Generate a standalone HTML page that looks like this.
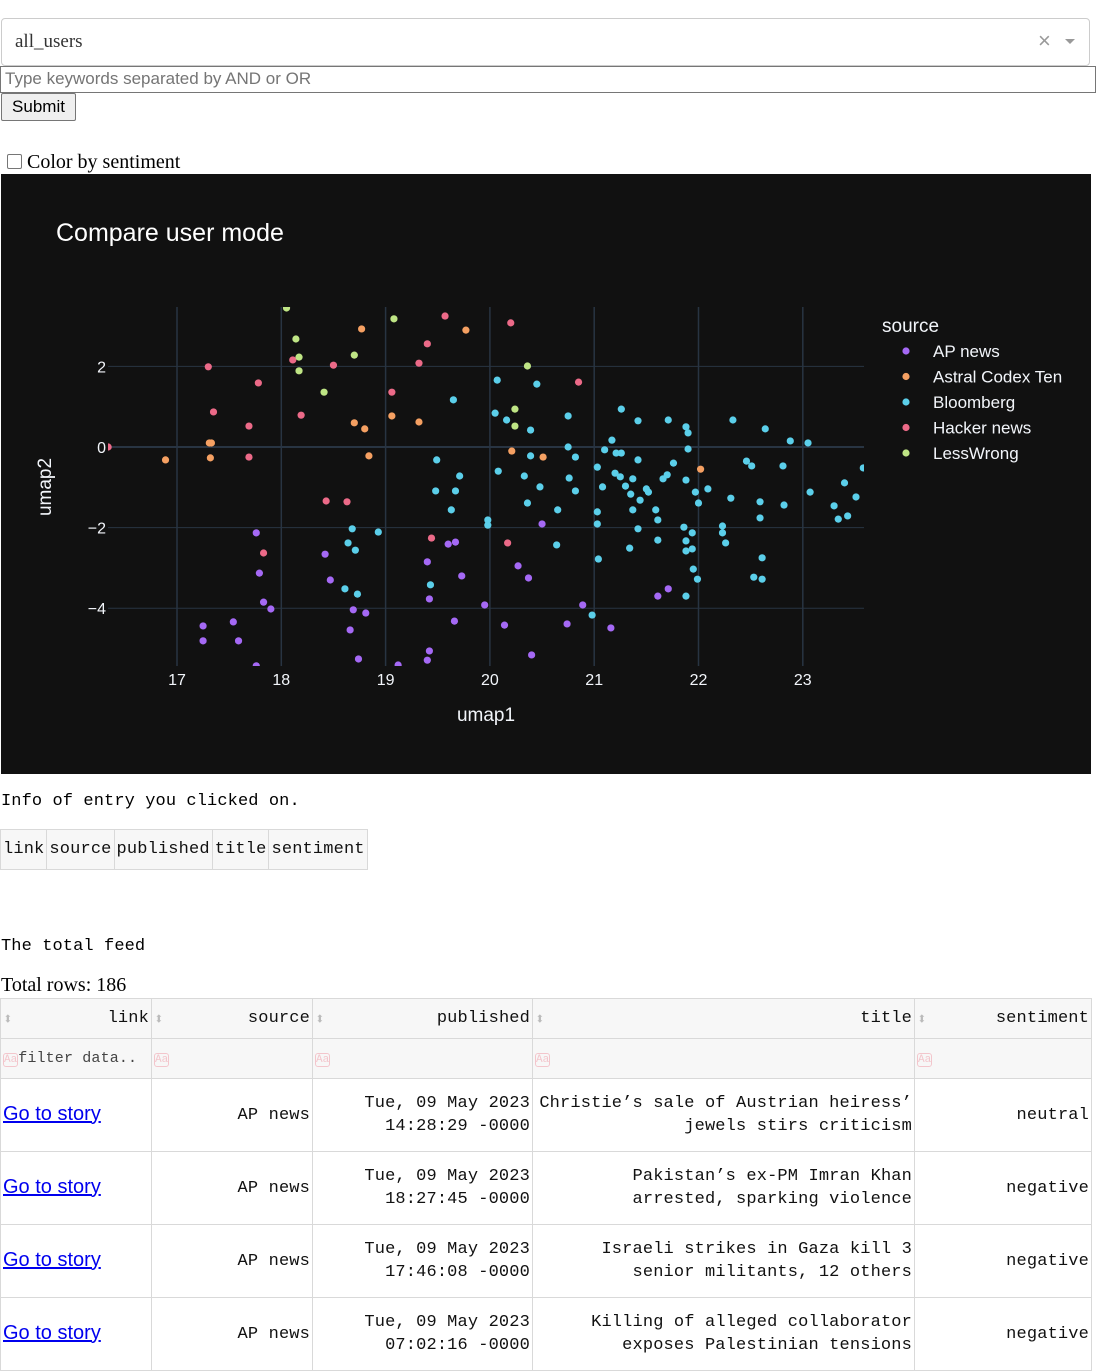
<!DOCTYPE html>
<html><head><meta charset="utf-8">
<style>
body{margin:0;width:1096px;height:1372px;overflow:hidden;background:#fff;font-family:"Liberation Serif",serif;position:relative}
.abs{position:absolute}
.mono{font-family:"Liberation Mono",monospace;font-size:17px;letter-spacing:0.1px}
table{border-collapse:collapse;position:absolute}
td{border:1px solid #d9d9d9;padding:0 2px;font-family:"Liberation Mono",monospace;font-size:17px;letter-spacing:0.15px;color:#111}
.si{float:left;color:#bbb;font-size:16px;letter-spacing:0}
.aa{color:#f3c6cc;font-size:11px;border:1px solid #f3c6cc;border-radius:3px;letter-spacing:0}
</style></head><body>
<div class="abs" style="left:1px;top:18px;width:1089px;height:48px;border:1px solid #ccc;border-radius:4px;box-sizing:border-box">
<span style="position:absolute;left:13px;top:12px;font-size:19px;color:#333">all_users</span>
<span style="position:absolute;left:1036px;top:9px;font-family:'Liberation Sans',sans-serif;font-size:22px;color:#999">×</span>
<span style="position:absolute;left:1063px;top:20px;width:0;height:0;border-left:5px solid transparent;border-right:5px solid transparent;border-top:5px solid #999"></span>
</div>
<div class="abs" style="left:0;top:66px;width:1096px;height:27px;border:1px solid #767676;box-sizing:border-box;font-family:'Liberation Sans',sans-serif;font-size:17px;color:#757575;padding:2px 4px">Type keywords separated by AND or OR</div>
<div class="abs" style="left:1px;top:93px;width:75px;height:28px;border:1px solid #767676;border-radius:2px;background:#efefef;box-sizing:border-box;font-family:'Liberation Sans',sans-serif;font-size:17px;text-align:center;line-height:26px">Submit</div>
<div class="abs" style="left:7px;top:154px;width:13px;height:13px;border:1px solid #767676;border-radius:2px"></div>
<div class="abs" style="left:27px;top:151px;font-size:20px">Color by sentiment</div>

<svg class="abs" style="left:1px;top:174px" width="1090" height="600" id="chart">
<rect width="1090" height="600" fill="#111111"/>
<text x="55" y="67" fill="#fff" font-family="Liberation Sans,sans-serif" font-size="25">Compare user mode</text>
<g id="grid"></g>
<defs><clipPath id="pc"><rect x="107" y="133" width="756" height="359"/></clipPath></defs>
<g id="pts" clip-path="url(#pc)"></g>
<g id="ticks" font-family="Liberation Sans,sans-serif" font-size="16" fill="#f2f5fa"></g>
<text x="485" y="547" fill="#f2f5fa" text-anchor="middle" font-family="Liberation Sans,sans-serif" font-size="19">umap1</text>
<text transform="translate(50,313) rotate(-90)" fill="#f2f5fa" text-anchor="middle" font-family="Liberation Sans,sans-serif" font-size="19">umap2</text>
<text x="881" y="158" fill="#f2f5fa" font-family="Liberation Sans,sans-serif" font-size="19">source</text>
<g id="legend" font-family="Liberation Sans,sans-serif" font-size="17" fill="#f2f5fa"></g>
</svg>

<div class="abs mono" style="left:1px;top:792px">Info of entry you clicked on.</div>
<table style="left:0;top:829px;height:41px"><tr style="background:#f7f7f7;height:40px">
<td>link</td><td>source</td><td>published</td><td>title</td><td>sentiment</td></tr></table>
<div class="abs mono" style="left:1px;top:937px">The total feed</div>
<div class="abs" style="left:1px;top:974px;font-size:20px">Total rows: 186</div>

<table style="left:0;top:998px;width:1091px;table-layout:fixed">
<colgroup><col style="width:151px"><col style="width:161px"><col style="width:220px"><col style="width:382px"><col style="width:177px"></colgroup>
<tr style="height:40px;background:#f7f7f7;text-align:right">
<td><span class="si">⬍</span>link</td>
<td><span class="si">⬍</span>source</td>
<td><span class="si">⬍</span>published</td>
<td><span class="si">⬍</span>title</td>
<td><span class="si">⬍</span>sentiment</td></tr>
<tr style="height:40px;background:#f7f7f7">
<td style="font-size:15px;color:#444;white-space:nowrap;overflow:hidden"><span class="aa">Aa</span>filter data..</td>
<td><span class="aa">Aa</span></td>
<td><span class="aa">Aa</span></td>
<td><span class="aa">Aa</span></td>
<td><span class="aa">Aa</span></td></tr>
<tr style="height:73px;text-align:right;line-height:23px">
<td style="text-align:left"><a href="#" style="color:#00e;font-family:'Liberation Sans',sans-serif;font-size:20px;letter-spacing:0">Go to story</a></td>
<td>AP news</td><td>Tue, 09 May 2023<br>14:28:29 -0000</td><td>Christie’s sale of Austrian heiress’<br>jewels stirs criticism</td><td>neutral</td></tr>
<tr style="height:73px;text-align:right;line-height:23px">
<td style="text-align:left"><a href="#" style="color:#00e;font-family:'Liberation Sans',sans-serif;font-size:20px;letter-spacing:0">Go to story</a></td>
<td>AP news</td><td>Tue, 09 May 2023<br>18:27:45 -0000</td><td>Pakistan’s ex-PM Imran Khan<br>arrested, sparking violence</td><td>negative</td></tr>
<tr style="height:73px;text-align:right;line-height:23px">
<td style="text-align:left"><a href="#" style="color:#00e;font-family:'Liberation Sans',sans-serif;font-size:20px;letter-spacing:0">Go to story</a></td>
<td>AP news</td><td>Tue, 09 May 2023<br>17:46:08 -0000</td><td>Israeli strikes in Gaza kill 3<br>senior militants, 12 others</td><td>negative</td></tr>
<tr style="height:73px;text-align:right;line-height:23px">
<td style="text-align:left"><a href="#" style="color:#00e;font-family:'Liberation Sans',sans-serif;font-size:20px;letter-spacing:0">Go to story</a></td>
<td>AP news</td><td>Tue, 09 May 2023<br>07:02:16 -0000</td><td>Killing of alleged collaborator<br>exposes Palestinian tensions</td><td>negative</td></tr>
</table>

<script>
const sources = ["AP news","Astral Codex Ten","Bloomberg","Hacker news","LessWrong"];
const xTicks = [17,18,19,20,21,22,23];
const yTicks = [2,0,-2,-4];
const apX = [17.76,17.79,17.83,17.90,17.25,17.25,17.54,17.59,17.76,18.42,18.47,18.69,18.81,18.66,18.74,19.12,19.40,19.42,19.73,19.60,19.67,19.66,19.42,19.40,19.95,20.14,20.27,20.37,20.50,20.40,20.74,20.89,21.16,21.61,21.71];
const apY = [-2.13,-3.13,-3.85,-4.02,-4.44,-4.81,-4.34,-4.81,-5.43,-2.66,-3.30,-4.04,-4.12,-4.54,-5.26,-5.41,-2.85,-3.77,-3.20,-2.41,-2.36,-4.32,-5.06,-5.29,-3.92,-4.42,-2.95,-3.25,-1.91,-5.16,-4.39,-3.92,-4.49,-3.70,-3.52];
const acX = [16.89,17.31,17.33,17.32,18.77,18.70,18.80,18.84,19.06,19.32,19.77,20.21,20.51,22.02];
const acY = [-0.32,0.10,0.10,-0.27,2.93,0.60,0.45,-0.22,0.77,0.62,2.90,-0.10,-0.25,-0.55];
const bbX = [19.49,19.65,19.48,19.67,19.71,19.63,19.43,18.68,18.93,18.64,18.71,18.61,18.73,19.98,19.98,20.07,20.45,20.05,20.16,20.39,20.08,20.33,20.48,20.36,20.39,20.75,20.65,20.64,20.75,20.82,20.82,20.76,21.08,21.03,21.03,21.04,20.98,21.10,21.17,21.21,21.26,21.26,21.42,21.71,21.88,21.90,21.90,21.88,21.97,22.00,22.09,22.33,22.64,22.88,23.05,21.42,21.30,21.35,21.44,21.50,21.52,21.66,21.76,21.37,21.42,21.34,21.59,21.61,21.61,21.86,21.88,21.88,21.94,21.94,21.95,21.99,21.88,22.23,22.23,22.26,22.31,22.46,22.51,22.59,22.59,22.61,22.53,22.61,22.81,22.82,23.07,23.30,23.34,23.40,23.43,23.51,23.58,21.03,21.20,21.25,21.37,21.70];
const bbY = [-0.32,1.17,-1.09,-1.09,-0.72,-1.56,-3.42,-2.03,-2.11,-2.38,-2.56,-3.52,-3.65,-1.81,-1.94,1.66,1.56,0.84,0.67,0.42,-0.60,-0.72,-0.99,-1.39,-0.22,0.77,-1.56,-2.43,0.00,-0.25,-1.09,-0.77,-0.99,-1.61,-1.91,-2.78,-4.17,-0.07,0.17,-0.15,-0.15,0.94,0.65,0.67,0.50,0.35,-0.05,-0.82,-1.12,-1.39,-1.04,0.67,0.45,0.15,0.10,-0.32,-0.97,-1.17,-1.32,-1.04,-1.12,-0.79,-0.40,-1.56,-2.03,-2.51,-1.56,-1.81,-2.31,-1.99,-2.33,-2.58,-2.13,-2.53,-3.03,-3.28,-3.70,-1.96,-2.13,-2.38,-1.27,-0.35,-0.47,-1.36,-1.76,-2.75,-3.23,-3.28,-0.47,-1.44,-1.12,-1.46,-1.79,-0.89,-1.71,-1.24,-0.52,-0.50,-0.65,-0.74,-0.79,-0.69];
const hnX = [16.34,17.30,17.78,17.35,17.69,17.69,18.11,18.19,18.50,18.43,18.63,19.06,19.32,19.40,19.57,20.20,20.85,19.44,20.17,17.83];
const hnY = [0.00,1.99,1.59,0.87,0.52,-0.25,2.16,0.79,2.03,-1.34,-1.36,1.36,2.08,2.56,3.25,3.08,1.61,-2.26,-2.38,-2.63];
const lwX = [18.05,18.14,18.17,18.17,18.41,18.70,19.08,20.36,20.24,20.24];
const lwY = [3.45,2.68,2.23,1.89,1.36,2.28,3.18,2.01,0.94,0.52];
const markColors = ["#a569f5","#f5a062","#5bcfea","#ec6a88","#bfe585"];
const seriesX = [apX,acX,bbX,hnX,lwX];
const seriesY = [apY,acY,bbY,hnY,lwY];
const sx = v => 176 + (v - 17) * 104.3;
const sy = v => 273 - v * 40.3;
const NS = "http://www.w3.org/2000/svg";
const grid = document.getElementById("grid"), ticks = document.getElementById("ticks");
xTicks.forEach(t => {
  const l = document.createElementNS(NS,"line");
  l.setAttribute("x1",sx(t));l.setAttribute("x2",sx(t));l.setAttribute("y1",133);l.setAttribute("y2",492);
  l.setAttribute("stroke","#283442");l.setAttribute("stroke-width","1.5");
  
  
  grid.appendChild(l);
  const tx = document.createElementNS(NS,"text");
  tx.setAttribute("x",sx(t));tx.setAttribute("y",511);tx.setAttribute("text-anchor","middle");tx.textContent=t;
  
  
  ticks.appendChild(tx);
});
yTicks.forEach(t => {
  const l = document.createElementNS(NS,"line");
  l.setAttribute("x1",107);l.setAttribute("x2",863);l.setAttribute("y1",sy(t));l.setAttribute("y2",sy(t));
  l.setAttribute("stroke","#283442");l.setAttribute("stroke-width",t===0?"2":"1");
  
  
  grid.appendChild(l);
  const tx = document.createElementNS(NS,"text");
  tx.setAttribute("x",105);tx.setAttribute("y",sy(t)+6);tx.setAttribute("text-anchor","end");tx.textContent=t<0?"\u2212"+(-t):t;
  
  
  ticks.appendChild(tx);
});
const pts = document.getElementById("pts");
seriesX.forEach((xs,i) => {
  xs.forEach((x,j) => {
    const c = document.createElementNS(NS,"circle");
    c.setAttribute("cx",sx(x));c.setAttribute("cy",sy(seriesY[i][j]));c.setAttribute("r",3.6);
    c.setAttribute("fill",markColors[i]);
    
    
    pts.appendChild(c);
  });
});
const lg = document.getElementById("legend");
sources.forEach((s,i) => {
  const y = 177 + i*25.5;
  const c = document.createElementNS(NS,"circle");
  c.setAttribute("cx",905);c.setAttribute("cy",y);c.setAttribute("r",3.6);c.setAttribute("fill",markColors[i]);
  
  
  lg.appendChild(c);
  const t = document.createElementNS(NS,"text");
  t.setAttribute("x",932);t.setAttribute("y",y+6);t.textContent=s;
  
  
  lg.appendChild(t);
});
</script>
</body></html>
